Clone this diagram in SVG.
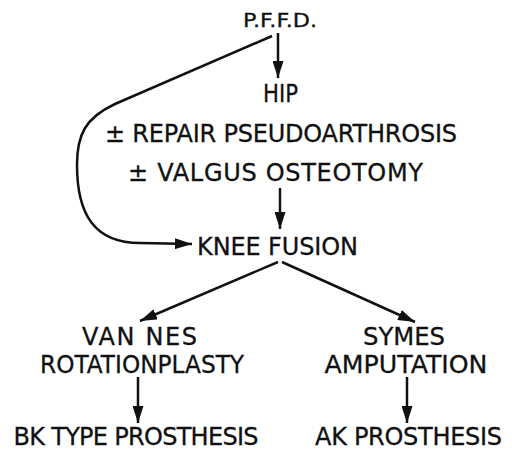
<svg xmlns="http://www.w3.org/2000/svg" width="512" height="451" viewBox="0 0 512 451">
<defs>
<marker id="ah" markerUnits="userSpaceOnUse" markerWidth="17" markerHeight="11" refX="17" refY="5.5" orient="auto">
<path d="M0,0 L17,5.5 L0,11 z" fill="#111"/>
</marker>
<style>
text{font-family:"DejaVu Sans","Liberation Sans",sans-serif;font-size:24px;fill:#111;stroke:#111;stroke-width:0.3;text-anchor:middle}
.s{font-size:19.5px}
.c{fill:none;stroke:#111;stroke-width:2.5;marker-end:url(#ah)}
</style>
</defs>
<rect width="512" height="451" fill="#fff"/>
<g id="pffd"><text class="s" x="280" y="27" textLength="74" lengthAdjust="spacingAndGlyphs">P.F.F.D.</text></g>
<g id="hip"><text x="280.5" y="102" textLength="35" lengthAdjust="spacingAndGlyphs">HIP</text></g>
<g id="repair"><text x="281" y="142" textLength="352" lengthAdjust="spacing">± REPAIR PSEUDOARTHROSIS</text></g>
<g id="valgus"><text x="275.5" y="181" textLength="295" lengthAdjust="spacing">± VALGUS OSTEOTOMY</text></g>
<g id="knee"><text x="277.5" y="255" textLength="161" lengthAdjust="spacing">KNEE FUSION</text></g>
<g id="vannes"><text x="139.5" y="345" textLength="115" lengthAdjust="spacing">VAN NES</text><text x="142" y="373" textLength="204" lengthAdjust="spacingAndGlyphs">ROTATIONPLASTY</text></g>
<g id="symes"><text x="404" y="345" textLength="82" lengthAdjust="spacingAndGlyphs">SYMES</text><text x="406" y="373" textLength="163" lengthAdjust="spacingAndGlyphs">AMPUTATION</text></g>
<g id="bk"><text x="136" y="445" textLength="245" lengthAdjust="spacing">BK TYPE PROSTHESIS</text></g>
<g id="ak"><text x="408.5" y="445" textLength="187" lengthAdjust="spacing">AK PROSTHESIS</text></g>
<g id="connectors">
<path class="c" d="M278,33 L278,78"/>
<path class="c" d="M272,36 L115,104 C85,118 77,135 77,165 C77,215 95,243 140,243 L192,244"/>
<path class="c" d="M280,188 L280,229"/>
<path class="c" d="M278,262 L140,321"/>
<path class="c" d="M282,262 L415,322"/>
<path class="c" d="M138,377 L138,423"/>
<path class="c" d="M407,377 L407,423"/>
</g>
</svg>
